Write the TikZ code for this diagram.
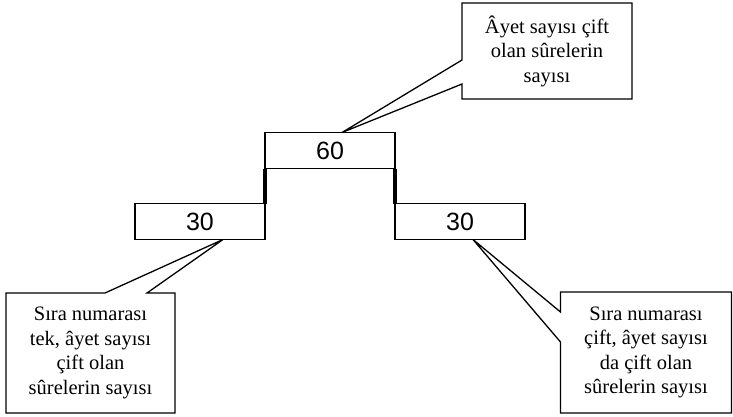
\documentclass[tikz,border=0pt]{standalone}
\usepackage{fontspec}
\setmainfont{Liberation Serif}
\newfontfamily\arialfont{Liberation Sans}
\usepackage{tikz}
\usetikzlibrary{positioning}

\begin{document}
\begin{tikzpicture}[x=1pt,y=-1pt]
        \tikzset{numbox/.style = {draw, line width=1.6pt, minimum width=130pt, minimum height=36pt, inner sep=0pt, outer sep=0pt, font=\arialfont\fontsize{25}{28}\selectfont}}
        \tikzset{note/.style = {align=center, inner sep=0pt, outer sep=0pt, font=\fontsize{20.5}{24.5}\selectfont}}
        \tikzset{outline/.style = {draw, line width=1.3pt, line join=miter}}
        \tikzset{stem/.style = {line width=4pt}}

        \useasboundingbox (0,0) rectangle (733,416);

        % number boxes
        \node[numbox] (b60) at (330,150.5) {60};
        \node[numbox] (b30l) at (200,221.5) {30};
        \node[numbox] (b30r) at (460,221.5) {30};

        \draw[stem] (b60.south west) -- (b30l.north east);
        \draw[stem] (b60.south east) -- (b30r.north west);

        % notes
        \node[note, minimum width=170pt, minimum height=96pt] (ntop) at (547,51) {Âyet sayısı çift\\olan sûrelerin\\sayısı};
        \node[note, minimum width=169pt, minimum height=120pt] (nleft) at (90.5,353) {Sıra numarası\\tek, âyet sayısı\\çift olan\\sûrelerin sayısı};
        \node[note, minimum width=171pt, minimum height=121pt] (nright) at (646,352.5) {Sıra numarası\\çift, âyet sayısı\\da çift olan\\sûrelerin sayısı};

        \draw[outline] (ntop.north west) -- (ntop.north east) -- (ntop.south east) -- (ntop.south west)
            -- ([yshift=-33pt]ntop.west) -- ([xshift=12pt]b60.north) -- ([yshift=-9pt]ntop.west) -- cycle;
        \draw[outline] (nleft.north west) -- ([xshift=14.5pt]nleft.north) -- ([xshift=23pt]b30l.south)
            -- ([xshift=56.5pt]nleft.north) -- (nleft.north east) -- (nleft.south east) -- (nleft.south west) -- cycle;
        \draw[outline] (nright.north west) -- (nright.north east) -- (nright.south east) -- (nright.south west)
            -- ([yshift=10.5pt]nright.west) -- ([xshift=13pt]b30r.south) -- ([yshift=40.5pt]nright.west) -- cycle;

\end{tikzpicture}
\end{document}
